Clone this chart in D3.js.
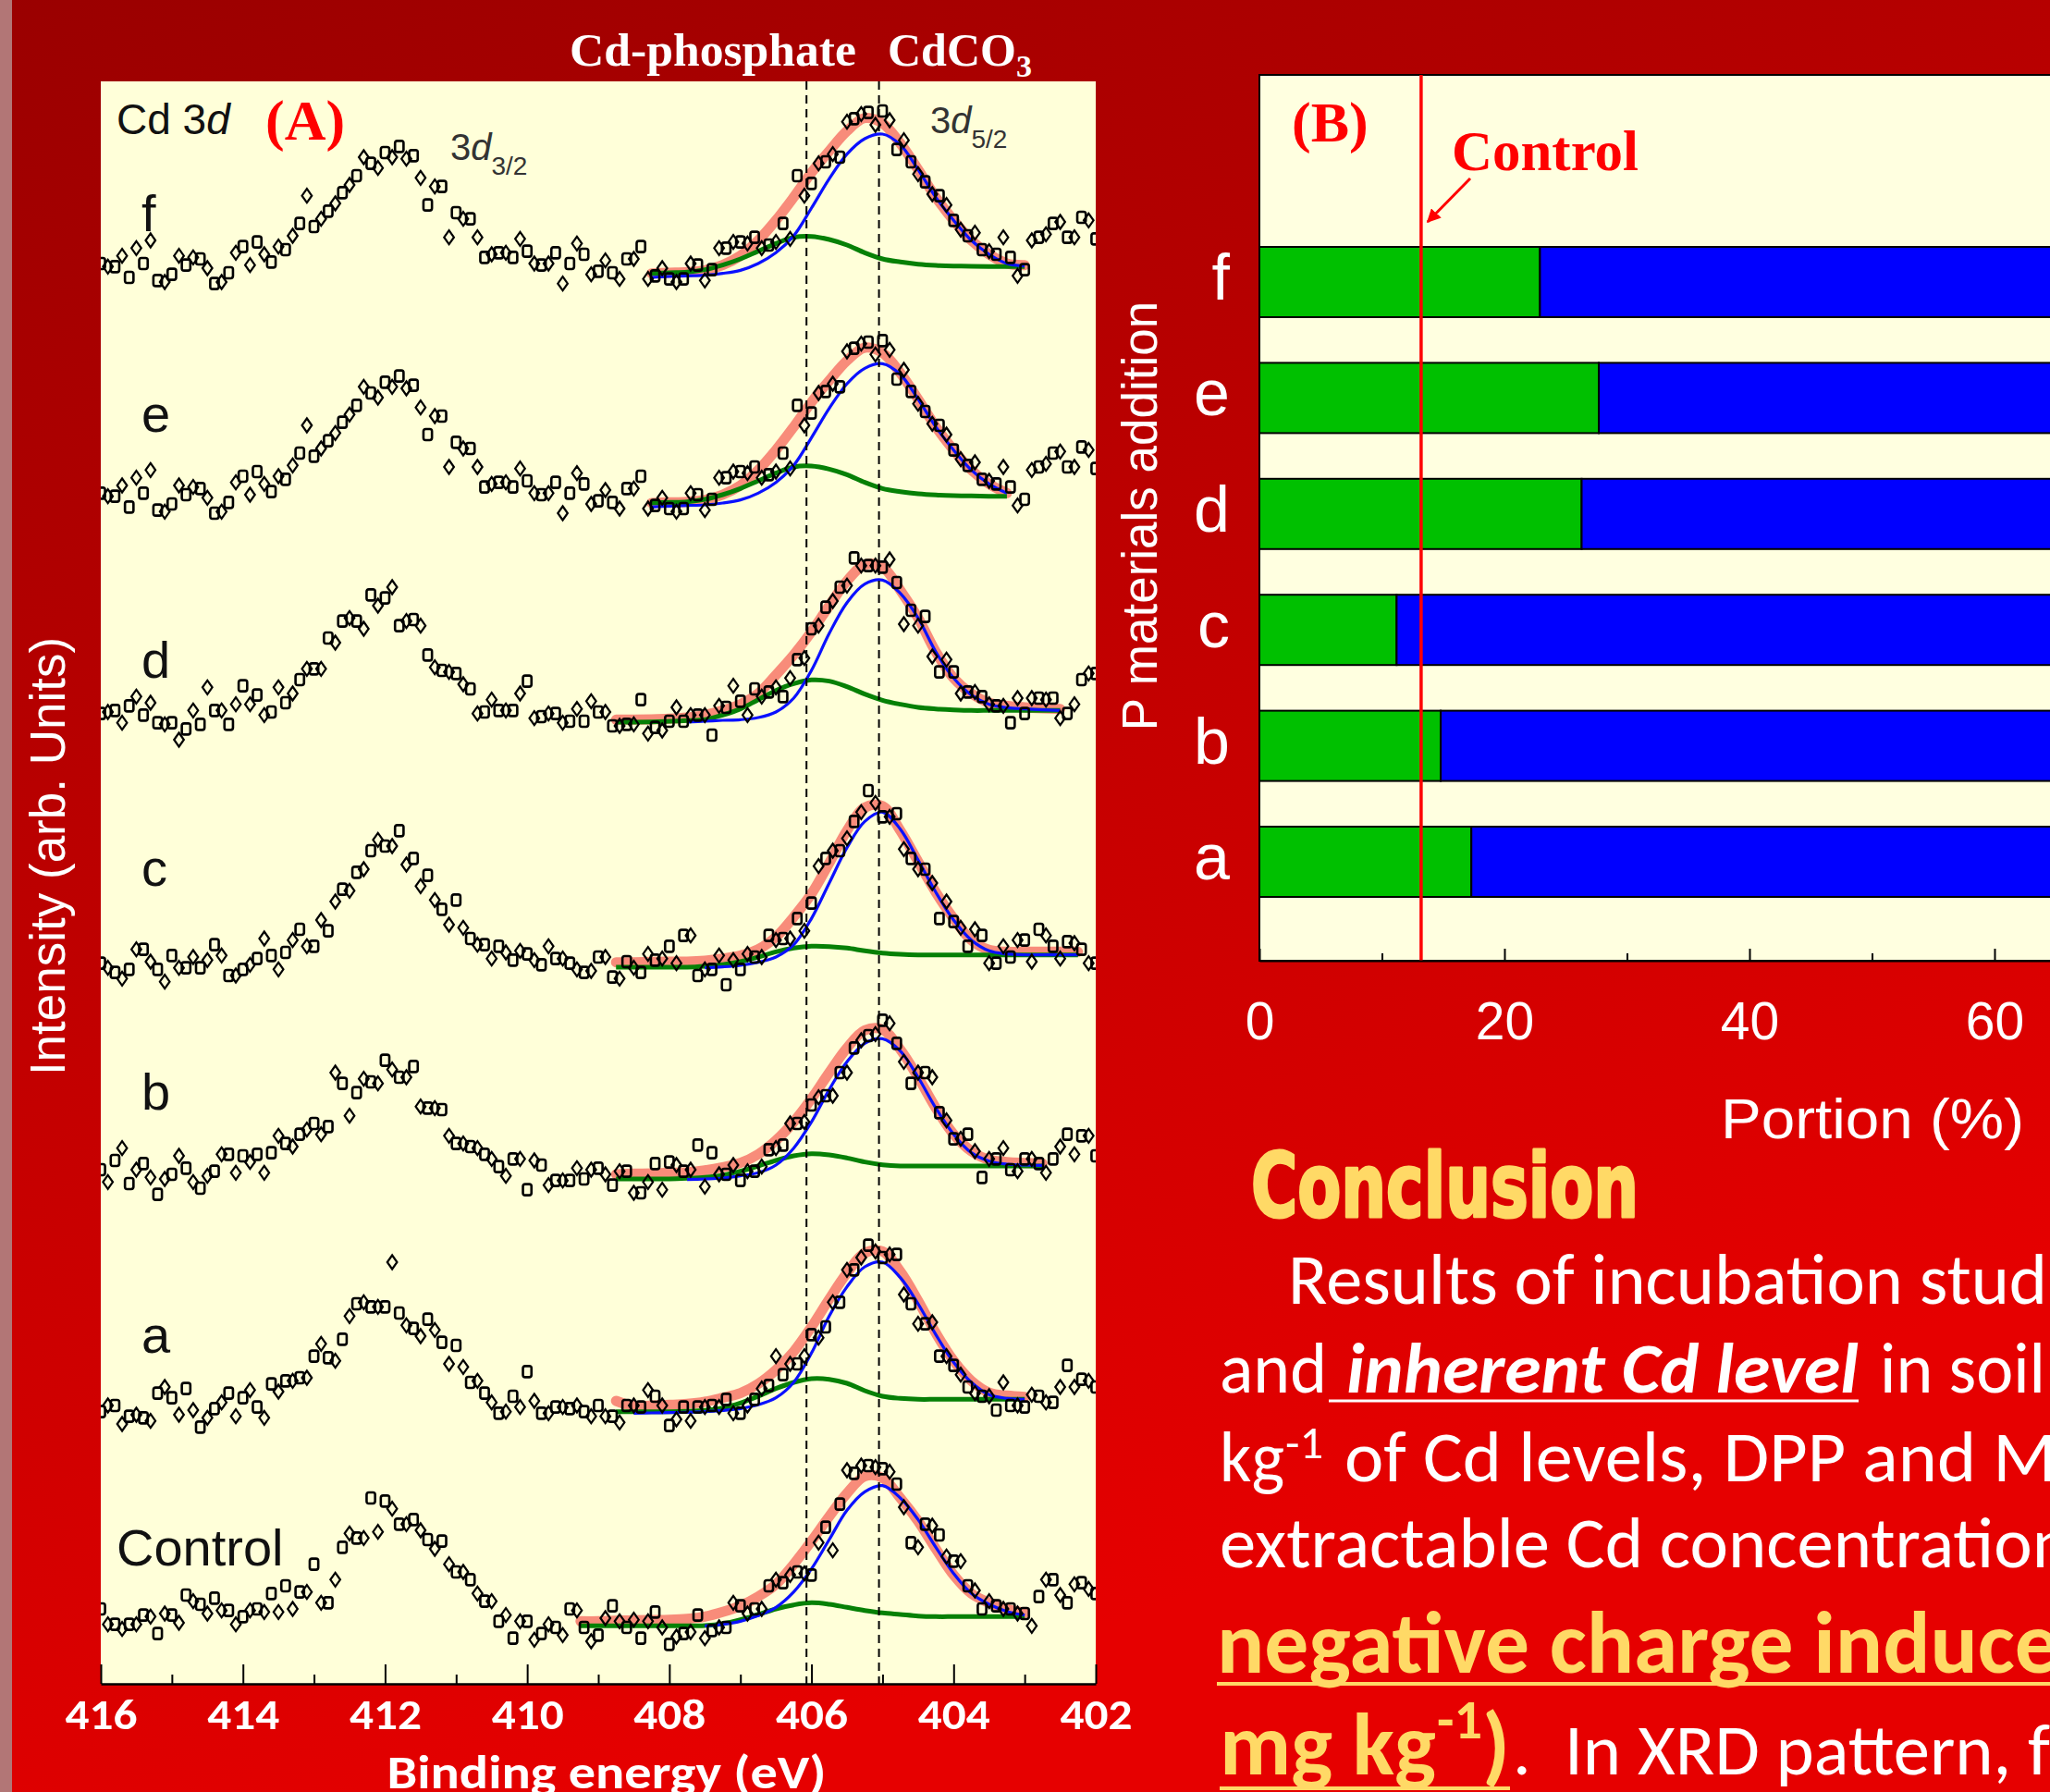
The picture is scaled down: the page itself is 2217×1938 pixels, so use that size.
<!DOCTYPE html>
<meta charset="utf-8">
<title>Cd 3d XPS and portion of Cd species</title>
<style>
body { margin: 0; background: #b00000; }
svg { display: block; }
.sans { font-family: "Liberation Sans", Arial, sans-serif; }
.serif { font-family: "Liberation Serif", "Times New Roman", serif; font-weight: bold; }
.cal { font-family: Carlito, Lato, "Open Sans", sans-serif; }
</style>

<script src="https://d3js.org/d3.v7.min.js"></script>

<div id="poster"></div>

<script>
var _ = null;

// ---------- (A) Cd 3d XPS spectra ----------
// binding energy of the two interleaved point sets (eV)
var energy = [416, 415.8, 415.6, 415.4, 415.2, 415, 414.8, 414.6, 414.4, 414.2,
  414, 413.8, 413.6, 413.4, 413.2, 413, 412.8, 412.6, 412.4, 412.2,
  412, 411.8, 411.6, 411.4, 411.2, 411, 410.8, 410.6, 410.4, 410.2,
  410, 409.8, 409.6, 409.4, 409.2, 409, 408.8, 408.6, 408.4, 408.2,
  408, 407.8, 407.6, 407.4, 407.2, 407, 406.8, 406.6, 406.4, 406.2,
  406, 405.8, 405.6, 405.4, 405.2, 405, 404.8, 404.6, 404.4, 404.2,
  404, 403.8, 403.6, 403.4, 403.2, 403, 402.8, 402.6, 402.4, 402.2, 402];
var energy2 = [415.9, 415.7, 415.5, 415.3, 415.1, 414.9, 414.7, 414.5, 414.3, 414.1,
  413.9, 413.7, 413.5, 413.3, 413.1, 412.9, 412.7, 412.5, 412.3, 412.1,
  411.9, 411.7, 411.5, 411.3, 411.1, 410.9, 410.7, 410.5, 410.3, 410.1,
  409.9, 409.7, 409.5, 409.3, 409.1, 408.9, 408.7, 408.5, 408.3, 408.1,
  407.9, 407.7, 407.5, 407.3, 407.1, 406.9, 406.7, 406.5, 406.3, 406.1,
  405.9, 405.7, 405.5, 405.3, 405.1, 404.9, 404.7, 404.5, 404.3, 404.1,
  403.9, 403.7, 403.5, 403.3, 403.1, 402.9, 402.7, 402.5, 402.3, 402.1];

// counts above each trace baseline (arb. units), squares then diamonds
var scanF = [10, 0, -35, 10, -45, -25, 5, 25, -55, -20, 65, 80, 15, 55, 140, 130, 180, 240, 295, 335,
  370, 390, 360, 200, 260, 175, 155, 30, 45, 30, 50, 5, 45, 10, 40, -15, -20, 25, 65, -30,
  -40, -40, 5, -10, 60, 80, 95, 70, 140, 295, 270, 340, 355, 480, 500, 505, 380, 340, 275, 230,
  150, 100, 55, 40, 30, -10, 95, 140, 95, 160, 90];
var scanF2 = [0, 35, 60, 85, -50, 35, 30, -5, -50, 45, 5, 40, 65, 100, 230, 155, 205, 265, 355, 320,
  355, 350, 288, 260, 95, 155, 95, 40, 45, 90, 10, 10, -55, 75, -25, 20, -40, 25, -40, -5,
  -50, 10, -45, 60, 80, 75, 60, 80, 90, 230, 335, 365, 470, 495, 460, 475, 410, 300, 235, 200,
  120, 110, 50, 95, -30, 85, 105, 145, 95, 150];
var scanE = [10, 0, -35, 10, -45, -25, 5, 25, -55, -20, 65, 80, 15, 55, 140, 130, 180, 240, 295, 335,
  370, 390, 360, 200, 260, 175, 155, 30, 45, 30, 50, 5, 45, 10, 40, -15, -20, 25, 65, -30,
  -40, -40, 5, -10, 60, 80, 95, 70, 140, 295, 270, 340, 355, 480, 500, 505, 380, 340, 275, 230,
  150, 100, 55, 40, 30, -10, 95, 140, 95, 160, 90];
var scanE2 = [0, 35, 60, 85, -50, 35, 30, -5, -50, 45, 5, 40, 65, 100, 230, 155, 205, 265, 355, 320,
  355, 350, 288, 260, 95, 155, 95, 40, 45, 90, 10, 10, -55, 75, -25, 20, -40, 25, -40, -5,
  -50, 10, -45, 60, 80, 75, 60, 80, 90, 230, 335, 365, 470, 495, 460, 475, 410, 300, 235, 200,
  120, 110, 50, 95, -30, 85, 105, 145, 95, 150];
var scanD = [-10, 0, 15, -15, -40, -40, -60, -45, 0, -45, 80, 50, -5, 25, 100, 135, 235, 290, 290, 375,
  365, 275, 295, 180, 130, 120, 70, -5, 0, 0, 95, -20, -10, -35, -35, -5, -50, -45, 35, -55,
  -35, -35, -15, -80, 10, 30, 70, 60, 45, 165, 265, 335, 400, 495, 470, 465, 415, 325, 305, 125,
  125, 60, 45, 15, -40, -10, 40, 40, -10, 100, 120];
var scanD2 = [-5, -40, 45, 25, -45, -95, 0, 75, 0, 20, 20, -15, 75, 55, 135, 135, 220, 300, 265, 340,
  400, 290, 275, 140, 125, 85, -10, 35, 0, 55, -25, -10, -40, 5, 30, -5, -50, -45, -75, -65,
  10, -15, -15, 15, 80, -15, 45, 75, 105, 170, 275, 355, 405, 470, 470, 490, 280, 275, 175, 165,
  55, 60, 20, 15, 40, 40, 35, -25, 20, 120];
var scanC = [-27, -57, -47, 18, -47, -2, -42, -42, 33, -67, -47, -12, -2, 8, 83, 28, 78, 213, 268, 338,
  353, 403, 313, 258, 148, 178, 53, 33, 28, -17, 3, -32, -12, -27, -57, -7, -72, -22, -57, -17,
  28, 63, -67, -47, -97, -47, -7, 63, 53, 118, 168, 313, 338, 433, 533, 448, 458, 313, 278, 118,
  108, 28, 63, -27, -7, 48, 83, 28, 43, 18, -27];
var scanC2 = [-42, -77, 18, -22, -87, -42, -7, -17, -2, -67, -32, 53, -47, 48, 28, 113, 173, 208, 278, 373,
  353, 293, 223, 178, 98, 88, 33, -12, 8, 13, -17, 28, -12, -47, -52, -7, -77, -42, 3, -12,
  -27, 63, -47, -2, -17, 3, -7, 48, 53, 78, 288, 338, 378, 463, 493, 448, 343, 278, 233, 173,
  88, 83, -27, 28, 48, -22, 63, -12, 38, -27];
var scanB = [-12, 18, -57, 8, -92, -27, -7, -72, -17, 38, 33, 38, 43, 73, 103, 138, 128, 268, 238, 273,
  343, 288, 323, 188, 183, 73, 63, 38, -2, 23, -77, 3, -47, -47, -42, -7, -62, -17, -87, 8,
  13, -17, 68, 43, -27, -47, -17, 53, 68, 138, 198, 228, 303, 383, 423, 473, 398, 268, 303, 173,
  88, 103, -37, 23, -12, 23, 8, 23, 103, 98, 33];
var scanB2 = [-52, 58, -12, -37, -42, 33, -52, -32, 38, -22, 13, -22, 98, 63, 118, 103, 303, 163, 283, 268,
  313, 288, 193, 188, 98, 73, 58, 23, -32, 23, 18, -62, -47, -7, -12, -27, -17, -87, -52, -77,
  3, -12, -67, -27, 3, -17, -2, 58, 138, 143, 223, 228, 303, 408, 428, 463, 338, 303, 288, 148,
  88, 48, 23, 58, -17, 23, -22, 63, 38, 98];
var scanA = [-40, -20, -55, -60, 20, 5, 35, -90, -30, 20, 5, -25, 50, 60, 70, 140, 135, 195, 310, 300,
  300, 280, 230, 260, 185, 175, 55, 20, -45, 10, 90, -45, -25, -30, -40, -20, -55, -20, -25, 10,
  -85, -25, -25, -20, 0, -45, 0, 45, 80, 115, 210, 235, 315, 420, 500, 460, 470, 310, 245, 140,
  110, 40, 10, -35, -20, -25, 10, -10, 110, 65, 40];
var scanA2 = [-20, -80, -50, -70, 40, -50, -35, -60, -10, -55, 30, -60, 25, 60, 70, 180, 125, 270, 315, 300,
  445, 240, 205, 225, 115, 105, 60, -10, -40, -25, -5, -45, -25, -20, -55, -55, -75, -20, 30, -20,
  -65, -70, -25, -25, -45, -20, 35, 140, 115, 140, 200, 315, 420, 460, 480, 470, 340, 245, 250, 140,
  80, 20, 10, 55, -20, 15, -10, 40, 40, 60];
var scanControl = [25, -25, -25, 5, -55, 5, 70, 40, 60, 20, 0, 25, 75, 100, 80, 170, 45, 225, 255, 385,
  375, 300, 315, 250, 245, 145, 120, 50, -15, -70, -15, -55, -35, 25, -35, -60, 35, -35, -70, 15,
  -90, -55, 5, -45, -35, 35, 25, 100, 110, 145, 135, 290, 365, 465, 490, 480, 430, 240, 300, 265,
  180, 100, 25, 35, 25, 10, 65, 120, 45, 110, 75];
var scanControl2 = [-25, -40, -25, 0, 10, -20, 50, 10, 20, -25, 20, 15, 15, 25, 80, 45, 120, 270, 255, 275,
  350, 300, 280, 220, 170, 145, 75, 50, 5, -15, -75, -25, -60, 20, -80, -5, -15, -10, -15, -35,
  -65, -50, -70, -35, 45, 10, 25, 120, 135, 140, 240, 215, 475, 490, 485, 470, 355, 225, 295, 195,
  180, 85, 50, 25, 10, -30, 120, 70, 105, 90];

// energies of the fitted curves (eV)
var fitEnergy = [409.5, 409.25, 409, 408.75, 408.5, 408.25, 408, 407.75, 407.5, 407.25,
  407, 406.75, 406.5, 406.25, 406, 405.75, 405.5, 405.25, 405, 404.75,
  404.5, 404.25, 404, 403.75, 403.5, 403.25, 403, 402.75, 402.5, 402.25];

// total fit / CdCO3 component / Cd-phosphate component
var totalF = [_,_,_,_,_,-22,-20,-18,-12,5,35,85,150,225,305,375,440,482,465,400,315,225,150,85,40,10,5,_,_,_];
var carbF  = [_,_,_,_,_,-35,-32,-30,-28,-22,-12,10,45,100,190,285,365,415,430,395,315,225,150,85,40,10,2,_,_,_];
var phosF  = [_,_,_,_,_,-22,-20,-18,-10,5,25,50,75,95,98,88,70,45,25,15,8,4,2,1,0,0,0,_,_,_];

var totalE = [_,_,_,_,_,-22,-20,-18,-12,5,35,85,150,225,305,375,440,482,465,400,315,225,150,85,40,10,_,_,_,_];
var carbE  = [_,_,_,_,_,-35,-32,-30,-28,-22,-12,10,45,100,190,285,365,415,430,395,315,225,150,85,40,10,_,_,_,_];
var phosE  = [_,_,_,_,_,-22,-20,-18,-10,5,25,50,75,95,98,88,70,45,25,15,8,4,2,1,0,0,_,_,_,_];

var totalD = [_,_,_,-30,-30,-29,-27,-23,-15,0,20,55,115,180,255,340,420,473,465,390,300,190,105,55,25,15,10,7,5,_];
var carbD  = [_,_,_,_,_,_,_,-38,-35,-32,-30,-23,-5,40,130,250,350,410,423,380,300,190,105,50,20,9,5,2,0,_];
var phosD  = [_,_,_,-38,-38,-37,-35,-33,-30,-15,5,35,65,87,99,95,77,53,33,20,10,5,2,0,0,0,0,0,0,_];

var totalC = [_,_,_,-24,-24,-23,-22,-22,-19,-12,-2,18,58,123,198,298,403,478,483,403,303,203,118,48,16,10,10,10,10,10];
var carbC  = [_,_,_,_,_,_,_,_,-42,-39,-34,-24,-7,33,118,233,348,433,463,408,308,203,113,48,13,3,0,0,0,0];
var phosC  = [_,_,_,-40,-40,-40,-40,-40,-37,-32,-22,-7,10,22,28,27,22,13,6,2,0,0,0,0,0,0,0,0,0,0];

var totalB = [_,_,_,-27,-25,-24,-22,-20,-14,-4,10,38,83,143,218,303,383,440,443,378,288,188,103,48,20,13,10,8,_,_];
var carbB  = [_,_,_,_,_,_,_,-44,-42,-39,-32,-22,3,58,143,248,338,398,413,373,288,188,103,43,16,6,3,2,_,_];
var phosB  = [_,_,_,-42,-42,-42,-42,-40,-37,-30,-17,0,18,33,40,36,26,13,4,0,0,0,0,0,0,0,0,0,_,_];

var totalA = [_,_,_,-5,-22,-20,-18,-15,-8,5,20,50,95,155,235,325,410,475,480,415,320,215,125,60,22,12,8,_,_,_];
var carbA  = [_,_,_,_,-45,-44,-43,-42,-40,-36,-30,-18,5,55,150,270,365,430,445,395,310,210,120,55,15,3,0,_,_,_];
var phosA  = [_,_,_,-40,-40,-40,-40,-39,-36,-28,-12,10,35,55,67,65,52,28,10,3,0,0,0,0,0,0,0,_,_,_];

var totalControl = [_,-15,-15,-13,-12,-11,-10,-7,0,15,35,65,105,170,245,325,400,455,450,385,310,220,135,75,45,25,12,_,_,_];
var carbControl  = [_,_,_,_,_,_,_,_,-30,-25,-15,3,30,80,155,250,345,405,425,385,315,225,140,75,40,17,5,_,_,_];
var phosControl  = [_,-30,-30,-30,-30,-30,-30,-30,-29,-23,-10,7,25,38,45,40,30,20,12,7,2,0,0,0,0,0,0,_,_,_];

var traceNames = ["f", "e", "d", "c", "b", "a", "Control"];
var traceOffset = [4598, 3853, 3158, 2365, 1680, 923, 218];
var labelLift = [115, 209, 105, 224, 183, 150, 166];
var refPeaks = [406.07, 405.05];          // Cd-phosphate, CdCO3
var energyTicks = [416, 414, 412, 410, 408, 406, 404, 402];
var energyMinor = [415, 413, 411, 409, 407, 405, 403];

// ---------- (B) portion of Cd species ----------
var treatments = ["a", "b", "c", "d", "e", "f"];
var phosphatePct = [17.3, 14.8, 11.2, 26.3, 27.7, 22.9];
var carbonatePct = [82.7, 85.2, 88.8, 73.7, 72.3, 77.1];
var controlPct = 13.2;
var portionTicks = [0, 20, 40, 60, 80, 100];
var portionMinor = [10, 30, 50, 70, 90];

var scans = [scanF, scanE, scanD, scanC, scanB, scanA, scanControl];
var scans2 = [scanF2, scanE2, scanD2, scanC2, scanB2, scanA2, scanControl2];
var totals = [totalF, totalE, totalD, totalC, totalB, totalA, totalControl];
var carbs = [carbF, carbE, carbD, carbC, carbB, carbA, carbControl];
var phoss = [phosF, phosE, phosD, phosC, phosB, phosA, phosControl];

var W = 2217, H = 1938;
var svg = d3.select("#poster").append("svg").attr("width", W).attr("height", H);
var defs = svg.append("defs");

// red poster background
var bg = defs.append("linearGradient").attr("id", "bg")
  .attr("gradientUnits", "userSpaceOnUse")
  .attr("x1", 0).attr("y1", 0).attr("x2", 700).attr("y2", H);
bg.append("stop").attr("offset", 0).attr("stop-color", "#9a0000");
bg.append("stop").attr("offset", 1).attr("stop-color", "#e60000");
svg.append("rect").attr("width", W).attr("height", H).attr("fill", "url(#bg)");
svg.append("rect").attr("width", 13).attr("height", H).attr("fill", "#b27676");

// ================= panel A =================
var A = {left: 109, right: 1185, top: 88, bottom: 1821};
var x = d3.scaleLinear().domain([416, 402]).range([A.left, A.right]);
var y = d3.scaleLinear().domain([0, 5199]).range([A.bottom, A.top]);

defs.append("clipPath").attr("id", "clipA").append("rect")
  .attr("x", A.left).attr("y", A.top)
  .attr("width", A.right - A.left).attr("height", A.bottom - A.top);

svg.append("rect")
  .attr("x", A.left).attr("y", A.top)
  .attr("width", A.right - A.left).attr("height", A.bottom - A.top)
  .attr("fill", "#ffffd9");

var gA = svg.append("g").attr("clip-path", "url(#clipA)");

function fitLine(off) {
  return d3.line()
    .defined(function(d) { return d[1] !== null; })
    .x(function(d) { return x(d[0]); })
    .y(function(d) { return y(d[1] + off); })
    .curve(d3.curveCatmullRom.alpha(0.5));
}
function pairs(vals) {
  return fitEnergy.map(function(e, i) { return [e, vals[i]]; });
}

var squareMark = "M-2.2,-6H2.2Q4.6,-6 4.6,-3.6V3.6Q4.6,6 2.2,6H-2.2Q-4.6,6 -4.6,3.6V-3.6Q-4.6,-6 -2.2,-6Z";
var diamondMark = "M0,-7.5L5.3,0L0,7.5L-5.3,0Z";

traceNames.forEach(function(name, t) {
  var off = traceOffset[t];
  var g = gA.append("g");
  g.append("path").attr("d", fitLine(off)(pairs(totals[t])))
    .attr("fill", "none").attr("stroke", "#f7806f").attr("stroke-width", 11)
    .attr("stroke-linecap", "round").attr("opacity", 0.9);
  g.append("path").attr("d", fitLine(off)(pairs(phoss[t])))
    .attr("fill", "none").attr("stroke", "#068006").attr("stroke-width", 5);
  g.append("path").attr("d", fitLine(off)(pairs(carbs[t])))
    .attr("fill", "none").attr("stroke", "#0a10ff").attr("stroke-width", 3.2);

  g.selectAll(".sq").data(scans[t]).enter()
    .append("path")
    .attr("transform", function(v, i) { return "translate(" + x(energy[i]) + "," + y(v + off) + ")"; })
    .attr("d", squareMark)
    .attr("fill", "none").attr("stroke", "#000").attr("stroke-width", 2.6);
  g.selectAll(".dm").data(scans2[t]).enter()
    .append("path")
    .attr("transform", function(v, i) { return "translate(" + x(energy2[i]) + "," + y(v + off) + ")"; })
    .attr("d", diamondMark)
    .attr("fill", "none").attr("stroke", "#000").attr("stroke-width", 2.2);

  svg.append("text").attr("class", "sans")
    .attr("x", name === "Control" ? A.left + 17 : A.left + 44)
    .attr("y", y(off + labelLift[t]))
    .attr("font-size", 56).attr("fill", "#111")
    .text(name);
});

// reference peak positions
gA.selectAll(".ref").data(refPeaks).enter().append("line")
  .attr("x1", function(d) { return x(d); }).attr("x2", function(d) { return x(d); })
  .attr("y1", A.top).attr("y2", A.bottom)
  .attr("stroke", "#000").attr("stroke-width", 2).attr("stroke-dasharray", "9,6");

// bottom axis
var axA = svg.append("g").attr("transform", "translate(0," + A.bottom + ")")
  .call(d3.axisBottom(x).tickValues(energyTicks).tickSizeInner(-21).tickSizeOuter(0)
    .tickPadding(16).tickFormat(d3.format("d")));
axA.select(".domain").attr("stroke", "#000").attr("stroke-width", 2.5);
axA.selectAll(".tick line").attr("stroke", "#000").attr("stroke-width", 2);
axA.selectAll("text").attr("class", "cal").attr("font-size", 46)
  .attr("font-weight", "bold").attr("fill", "#fff")
  .attr("textLength", 78).attr("lengthAdjust", "spacingAndGlyphs");
var axAm = svg.append("g").attr("transform", "translate(0," + A.bottom + ")")
  .call(d3.axisBottom(x).tickValues(energyMinor).tickSizeInner(-10).tickSizeOuter(0).tickFormat(""));
axAm.select(".domain").remove();
axAm.selectAll(".tick line").attr("stroke", "#000").attr("stroke-width", 2);

svg.append("text").attr("class", "cal")
  .attr("x", 656).attr("y", 1934).attr("text-anchor", "middle")
  .attr("font-size", 50).attr("font-weight", "bold").attr("fill", "#fff")
  .attr("textLength", 475).attr("lengthAdjust", "spacingAndGlyphs")
  .text("Binding energy (eV)");

svg.append("text").attr("class", "sans")
  .attr("transform", "translate(70,926) rotate(-90)")
  .attr("text-anchor", "middle").attr("font-size", 53).attr("fill", "#fff")
  .text("Intensity (arb. Units)");

// titles over panel A
svg.append("text").attr("class", "serif").attr("x", 616).attr("y", 71)
  .attr("font-size", 50).attr("fill", "#fff")
  .attr("textLength", 310).attr("lengthAdjust", "spacingAndGlyphs").text("Cd-phosphate");
var cdco3 = svg.append("text").attr("class", "serif").attr("x", 960).attr("y", 71)
  .attr("font-size", 50).attr("fill", "#fff");
cdco3.append("tspan").text("CdCO");
cdco3.append("tspan").attr("font-size", 34).attr("dy", 12).text("3");

var cd3d = svg.append("text").attr("class", "sans").attr("x", 126).attr("y", 145)
  .attr("font-size", 46).attr("fill", "#111");
cd3d.append("tspan").text("Cd 3");
cd3d.append("tspan").attr("font-style", "italic").text("d");
svg.append("text").attr("class", "serif").attr("x", 287).attr("y", 151)
  .attr("font-size", 62).attr("fill", "#f00").text("(A)");

function orbital(px, py, sub) {
  var t = svg.append("text").attr("class", "sans").attr("x", px).attr("y", py)
    .attr("font-size", 40).attr("fill", "#333");
  t.append("tspan").text("3");
  t.append("tspan").attr("font-style", "italic").text("d");
  t.append("tspan").attr("font-size", 28).attr("dy", 16).text(sub);
}
orbital(487, 173, "3/2");
orbital(1006, 144, "5/2");

// ================= panel B =================
var B = {left: 1362, top: 81, bottom: 1039};
var xb = d3.scaleLinear().domain([0, 100]).range([B.left, 2687]);
var yb = d3.scaleBand().domain(treatments).range([994.7, 242.3])
  .paddingInner(0.394).paddingOuter(0.197);

svg.append("rect").attr("x", B.left).attr("y", B.top)
  .attr("width", 1000).attr("height", B.bottom - B.top)
  .attr("fill", "#ffffe0");

var rows = svg.selectAll(".row").data(treatments).enter().append("g");
rows.append("rect")
  .attr("x", xb(0)).attr("y", function(d) { return yb(d); })
  .attr("width", function(d, i) { return xb(phosphatePct[i]) - xb(0); })
  .attr("height", yb.bandwidth())
  .attr("fill", "#00c000").attr("stroke", "#000").attr("stroke-width", 2);
rows.append("rect")
  .attr("x", function(d, i) { return xb(phosphatePct[i]); }).attr("y", function(d) { return yb(d); })
  .attr("width", function(d, i) { return xb(phosphatePct[i] + carbonatePct[i]) - xb(phosphatePct[i]); })
  .attr("height", yb.bandwidth())
  .attr("fill", "#0000ff").attr("stroke", "#000").attr("stroke-width", 2);
rows.append("text").attr("class", "sans")
  .attr("x", B.left - 32).attr("y", function(d) { return yb(d) + yb.bandwidth() / 2 + 19; })
  .attr("text-anchor", "end").attr("font-size", 70).attr("fill", "#fff")
  .text(function(d) { return d; });

svg.append("rect").attr("x", B.left).attr("y", B.top)
  .attr("width", 1000).attr("height", B.bottom - B.top)
  .attr("fill", "none").attr("stroke", "#000").attr("stroke-width", 2);

// control level
svg.append("line")
  .attr("x1", xb(controlPct)).attr("x2", xb(controlPct))
  .attr("y1", B.top).attr("y2", B.bottom)
  .attr("stroke", "#ff0000").attr("stroke-width", 3.5);

defs.append("marker").attr("id", "arrow").attr("viewBox", "0 0 10 10")
  .attr("refX", 9).attr("refY", 5).attr("markerWidth", 5).attr("markerHeight", 5)
  .attr("orient", "auto")
  .append("path").attr("d", "M0,0L10,5L0,10Z").attr("fill", "#ff0000");
svg.append("line")
  .attr("x1", 1590).attr("y1", 193).attr("x2", xb(controlPct) + 7).attr("y2", 240)
  .attr("stroke", "#ff0000").attr("stroke-width", 3).attr("marker-end", "url(#arrow)");
svg.append("text").attr("class", "serif").attr("x", 1570).attr("y", 184)
  .attr("font-size", 62).attr("fill", "#ff0000")
  .attr("textLength", 202).attr("lengthAdjust", "spacingAndGlyphs").text("Control");
svg.append("text").attr("class", "serif").attr("x", 1397).attr("y", 153)
  .attr("font-size", 62).attr("fill", "#ff0000").text("(B)");

var axB = svg.append("g").attr("transform", "translate(0," + B.bottom + ")")
  .call(d3.axisBottom(xb).tickValues(portionTicks).tickSizeInner(-13).tickSizeOuter(0).tickPadding(45));
axB.select(".domain").attr("stroke", "#000").attr("stroke-width", 2);
axB.selectAll(".tick line").attr("stroke", "#000").attr("stroke-width", 2);
axB.selectAll("text").attr("class", "sans").attr("font-size", 57).attr("fill", "#fff");
var axBm = svg.append("g").attr("transform", "translate(0," + B.bottom + ")")
  .call(d3.axisBottom(xb).tickValues(portionMinor).tickSizeInner(-8).tickSizeOuter(0).tickFormat(""));
axBm.select(".domain").remove();
axBm.selectAll(".tick line").attr("stroke", "#000").attr("stroke-width", 2);

svg.append("text").attr("class", "sans").attr("x", 2025).attr("y", 1231)
  .attr("text-anchor", "middle").attr("font-size", 62).attr("fill", "#fff")
  .attr("textLength", 328).attr("lengthAdjust", "spacingAndGlyphs")
  .text("Portion (%)");
svg.append("text").attr("class", "sans")
  .attr("transform", "translate(1251,558) rotate(-90)")
  .attr("text-anchor", "middle").attr("font-size", 53).attr("fill", "#fff")
  .text("P materials addition");

// ================= conclusion text =================
var gold = "#ffd966";
function put(txt, px, py, size, len, opts) {
  opts = opts || {};
  var t = svg.append("text").attr("class", "cal").attr("x", px).attr("y", py)
    .attr("font-size", size).attr("fill", opts.fill || "#fff")
    .attr("font-weight", opts.bold ? "bold" : "normal")
    .attr("font-style", opts.italic ? "italic" : "normal")
    .text(txt);
  if (len) t.attr("textLength", len).attr("lengthAdjust", "spacingAndGlyphs");
  return t;
}
function underline(x1, x2, py, color, w) {
  svg.append("line").attr("x1", x1).attr("x2", x2).attr("y1", py).attr("y2", py)
    .attr("stroke", color).attr("stroke-width", w);
}

svg.append("text").attr("x", 1353).attr("y", 1316)
  .style("font-family", "'DejaVu Sans Condensed', 'DejaVu Sans', sans-serif")
  .attr("font-weight", "bold").attr("font-size", 97).attr("fill", gold)
  .attr("stroke", gold).attr("stroke-width", 3).attr("stroke-linejoin", "round")
  .attr("textLength", 419).attr("lengthAdjust", "spacingAndGlyphs")
  .text("Conclusion");

put("Results of incubation stud", 1393, 1410, 78, 821);
put("and", 1319, 1506, 78, 116);
put("inherent Cd level", 1456, 1506, 78, 554, {bold: true, italic: true});
underline(1437, 2010, 1515, "#fff", 3);
put("in soil", 2033, 1506, 78, 179);
put("kg", 1319, 1602, 78, 70);
put("-1", 1390, 1577, 50, 41);
put("of Cd levels, DPP and M", 1454, 1602, 78, 770);
put("extractable Cd concentration", 1319, 1695, 78, 920);
put("negative charge induce", 1316, 1809, 95, 911, {bold: true, fill: gold});
underline(1316, W, 1821, gold, 4);
put("mg kg", 1319, 1919, 95, 234, {bold: true, fill: gold});
put("-1", 1554, 1880, 60, 49, {bold: true, fill: gold});
put(")", 1603, 1919, 95, 30, {bold: true, fill: gold});
underline(1319, 1633, 1934, gold, 4);
put(".", 1636, 1919, 78);
put("In XRD pattern, f", 1692, 1919, 78, 525);
</script>
